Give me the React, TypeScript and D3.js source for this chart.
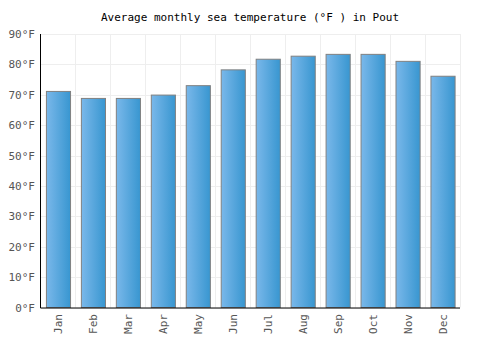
import React from "react";
import * as d3 from "d3";

const months = ["Jan", "Feb", "Mar", "Apr", "May", "Jun", "Jul", "Aug", "Sep", "Oct", "Nov", "Dec"];
const temps = [71.1, 68.8, 68.8, 69.9, 73.0, 78.2, 81.7, 82.7, 83.3, 83.3, 81.0, 76.1];
const yTicks = [0, 10, 20, 30, 40, 50, 60, 70, 80, 90];
const title = "Average monthly sea temperature (°F ) in Pout";

export default function App() {
  const W = 500, H = 350;
  const left = 40.5, right = 460, top = 34, bottom = 307.5;
  const x = d3.scaleBand<string>().domain(months).range([left, right]).paddingInner(0.31).paddingOuter(0.155);
  const xFull = d3.scaleBand<string>().domain(months).range([left, right]);
  const y = d3.scaleLinear().domain([0, 90]).range([bottom, top]);
  const font = "'DejaVu Sans Mono', monospace";
  return (
    <svg width={W} height={H} style={{ position: "absolute", left: 0, top: 0 }}>
      <defs>
        <linearGradient id="barGrad" x1="0" x2="1" y1="0" y2="0">
          <stop offset="0%" stopColor="#7ab8ea" />
          <stop offset="100%" stopColor="#3896d0" />
        </linearGradient>
      </defs>
      <rect width={W} height={H} fill="#fff" />
      <text x={250} y={21} textAnchor="middle" fontFamily={font} fontSize={11} fill="#000">{title}</text>
      {yTicks.map((t) => (
        <line key={"h" + t} x1={left} x2={right} y1={Math.round(y(t)) + 0.5} y2={Math.round(y(t)) + 0.5} stroke="#eeeeee" />
      ))}
      {months.map((m) => (
        <line key={"v" + m} x1={Math.round(xFull(m)! + xFull.bandwidth()) + 0.5} x2={Math.round(xFull(m)! + xFull.bandwidth()) + 0.5} y1={top} y2={bottom} stroke="#eeeeee" />
      ))}
      {months.map((m, i) => (
        <rect key={"b" + m} x={x(m)! + 0.5} y={y(temps[i])} width={x.bandwidth()} height={bottom - y(temps[i])} fill="url(#barGrad)" stroke="#808080" strokeWidth={1} />
      ))}
      <line x1={left} x2={left} y1={top} y2={bottom + 0.5} stroke="#000" />
      <line x1={left} x2={right} y1={bottom + 0.5} y2={bottom + 0.5} stroke="#000" />
      {yTicks.map((t) => (
        <text key={"yl" + t} x={35} y={y(t) + 4} textAnchor="end" fontFamily={font} fontSize={11} fill="#555">{t}°F</text>
      ))}
      {months.map((m) => {
        const cx = x(m)! + x.bandwidth() / 2 + 4;
        return (
          <text key={"xl" + m} transform={`translate(${cx},${314}) rotate(-90)`} textAnchor="end" fontFamily={font} fontSize={11} fill="#555">{m}</text>
        );
      })}
    </svg>
  );
}
